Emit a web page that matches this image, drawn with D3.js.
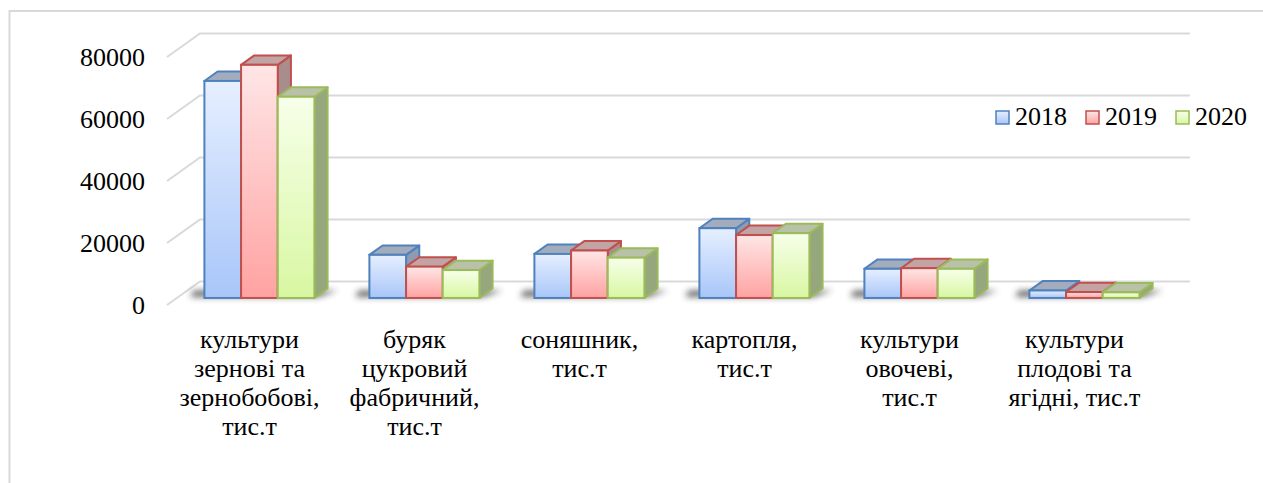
<!DOCTYPE html>
<html>
<head>
<meta charset="utf-8">
<script src="https://cdn.jsdelivr.net/npm/d3@7"></script>
</head>
<body style="margin:0">
<script>
// categories (label lines as in the picture)
var categories = [
  ["культури", "зернові та", "зернобобові,", "тис.т"],
  ["буряк", "цукровий", "фабричний,", "тис.т"],
  ["соняшник,", "тис.т"],
  ["картопля,", "тис.т"],
  ["культури", "овочеві,", "тис.т"],
  ["культури", "плодові та", "ягідні, тис.т"]
];
var series = ["2018", "2019", "2020"];
var values2018 = [70000, 13900, 14200, 22500, 9400, 2400];
var values2019 = [75200, 10100, 15300, 20300, 9600, 1900];
var values2020 = [64900, 9000, 13000, 20900, 9400, 1800];
var yTicks = [0, 20000, 40000, 60000, 80000];

var allValues = [values2018, values2019, values2020];
var catKeys = categories.map(function(c) { return c.join(" "); });

var width = 1263, height = 483;
var serif = '"Liberation Serif"';

// 3D look: full depth offset of the back wall, bars sit in the middle slice
var depth = {dx: 33, dy: -23.5};
var barFront = 0.3, barBack = 0.7;

var colors = [
  {stroke: "#4f81bd", top: "#a2acbd", side: "#8e9bb0", g0: "#e6efff", g1: "#a8c6f9"},
  {stroke: "#c0504d", top: "#c2a4a4", side: "#a98c8c", g0: "#ffe6e6", g1: "#ffa2a2"},
  {stroke: "#9bbb59", top: "#b9c1a9", side: "#97a77d", g0: "#f7ffea", g1: "#d8f7a2"}
];

var svg = d3.select("body").append("svg")
    .attr("width", width)
    .attr("height", height);

var defs = svg.append("defs");
colors.forEach(function(c, i) {
  var lg = defs.append("linearGradient")
      .attr("id", "grad" + i)
      .attr("x1", 0).attr("y1", 0).attr("x2", 0).attr("y2", 1);
  lg.append("stop").attr("offset", "0%").attr("stop-color", c.g0);
  lg.append("stop").attr("offset", "100%").attr("stop-color", c.g1);
});
defs.append("filter").attr("id", "blur")
    .attr("x", "-20%").attr("y", "-100%").attr("width", "140%").attr("height", "300%")
  .append("feGaussianBlur").attr("stdDeviation", 3);

// chart area border
svg.append("rect")
    .attr("x", 9.5).attr("y", 11)
    .attr("width", 1400).attr("height", 700)
    .attr("fill", "none")
    .attr("stroke", "#d9d9d9")
    .attr("stroke-width", 2);

var y = d3.scaleLinear().domain([0, 80000]).range([305, 57]);

var x = d3.scaleBand()
    .domain(catKeys)
    .range([167, 1157])
    .paddingInner(1 / 3)
    .paddingOuter(1 / 6);

var xs = d3.scaleBand()
    .domain(series)
    .range([0, x.bandwidth()]);

// gridlines: left wall diagonal + back wall horizontal
var grid = svg.append("g").attr("class", "grid");
grid.selectAll("path")
  .data(yTicks)
  .enter().append("path")
    .attr("fill", "none")
    .attr("stroke", "#d9d9d9")
    .attr("stroke-width", 2)
    .attr("d", function(d) {
      var x0 = x.range()[0], x1 = x.range()[1];
      return "M" + x0 + "," + y(d) +
             "L" + (x0 + depth.dx) + "," + (y(d) + depth.dy) +
             "L" + (x1 + depth.dx) + "," + (y(d) + depth.dy);
    });

// y axis labels
var yAxis = svg.append("g")
    .attr("transform", "translate(148,0)")
    .call(d3.axisLeft(y).tickValues(yTicks).tickSize(0).tickPadding(3).tickFormat(d3.format("d")));
yAxis.attr("font-family", null).attr("font-size", null);
yAxis.select(".domain").remove();
yAxis.selectAll("text")
    .style("font-family", serif)
    .style("font-size", "26px")
    .attr("fill", "#000");

// floor shadows under each group
var fx = barFront * depth.dx, fy = barFront * depth.dy;
var bx = barBack * depth.dx, by = barBack * depth.dy;
svg.append("g").selectAll("path")
  .data(catKeys)
  .enter().append("path")
    .attr("fill", "#3a3a3a")
    .attr("opacity", 0.75)
    .attr("filter", "url(#blur)")
    .attr("d", function(k) {
      var x0 = x(k), x1 = x(k) + x.bandwidth(), yb = y(0);
      return "M" + (x0 - 14 + fx) + "," + (yb + fy - 1) +
             "L" + (x1 + fx + 4) + "," + (yb + fy - 1) +
             "L" + (x1 + bx + 10) + "," + (yb + by + 2) +
             "L" + (x0 + bx - 24) + "," + (yb + by + 2) + "Z";
    });

// bars
var bars = svg.append("g").attr("class", "bars");
catKeys.forEach(function(k, ci) {
  series.forEach(function(s, si) {
    var v = allValues[si][ci];
    var c = colors[si];
    var x0 = x(k) + xs(s) + fx, x1 = x0 + xs.bandwidth();
    var yt = y(v) + fy, yb = y(0) + fy;
    var ddx = bx - fx, ddy = by - fy;
    var g = bars.append("g");
    // side face
    g.append("path")
        .attr("d", "M" + x1 + "," + yt + "L" + (x1 + ddx) + "," + (yt + ddy) +
                   "L" + (x1 + ddx) + "," + (yb + ddy) + "L" + x1 + "," + yb + "Z")
        .attr("fill", c.side)
        .attr("stroke", c.stroke).attr("stroke-width", 2).attr("stroke-linejoin", "round");
    // top face
    g.append("path")
        .attr("d", "M" + x0 + "," + yt + "L" + (x0 + ddx) + "," + (yt + ddy) +
                   "L" + (x1 + ddx) + "," + (yt + ddy) + "L" + x1 + "," + yt + "Z")
        .attr("fill", c.top)
        .attr("stroke", c.stroke).attr("stroke-width", 2).attr("stroke-linejoin", "round");
    // front face
    g.append("rect")
        .attr("x", x0).attr("y", yt)
        .attr("width", x1 - x0).attr("height", yb - yt)
        .attr("fill", "url(#grad" + si + ")")
        .attr("stroke", c.stroke).attr("stroke-width", 2);
  });
});

// category labels
var labels = svg.append("g").selectAll("text")
  .data(categories)
  .enter().append("text")
    .attr("text-anchor", "middle")
    .style("font-family", serif)
    .style("font-size", "26px")
    .attr("transform", function(d, i) {
      return "translate(" + (x(catKeys[i]) + x.bandwidth() / 2) + ",348)";
    });
labels.selectAll("tspan")
  .data(function(d) { return d; })
  .enter().append("tspan")
    .attr("x", 0)
    .attr("y", function(d, i) { return i * 29; })
    .text(function(d) { return d; });

// legend
var legend = svg.append("g").selectAll("g")
  .data(series)
  .enter().append("g")
    .attr("transform", function(d, i) { return "translate(" + (995 + i * 90) + ",110)"; });
legend.append("rect")
    .attr("x", 1).attr("y", 1)
    .attr("width", 13).attr("height", 13)
    .attr("fill", function(d, i) { return "url(#grad" + i + ")"; })
    .attr("stroke", function(d, i) { return colors[i].stroke; })
    .attr("stroke-width", 1.5);
legend.append("text")
    .attr("x", 20).attr("y", 15)
    .style("font-family", serif)
    .style("font-size", "26px")
    .text(function(d) { return d; });
</script>
</body>
</html>
